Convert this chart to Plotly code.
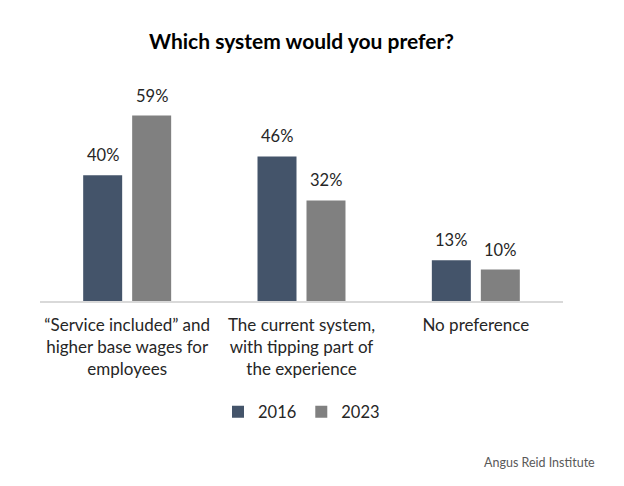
import plotly.graph_objects as go

categories = ["“Service included” and<br>higher base wages for<br>employees",
              "The current system,<br>with tipping part of<br>the experience",
              "No preference"]
years = ["2016", "2023"]
values_2016 = [40, 46, 13]
values_2023 = [59, 32, 10]
colors = ["#44546A", "#808080"]

FONT = "Lato"
bargap = 0.438
bargroupgap = 0.204

fig = go.Figure()
series = [values_2016, values_2023]
for name, vals, col in zip(years, series, colors):
    fig.add_trace(go.Bar(x=categories, y=vals, name=name, marker_color=col,
                         marker_line_width=0, hoverinfo="skip"))

# value labels above bars
slot = (1 - bargap) / 2
for i, vals in enumerate(series):
    off = (i - 0.5) * slot
    for j, v in enumerate(vals):
        fig.add_annotation(x=j + off, y=v, xref="x", yref="y", text=f"{v}%",
                           showarrow=False, yanchor="bottom", yshift=8,
                           font=dict(family=FONT, size=16.5, color="#262626"))

fig.add_annotation(text="Angus Reid Institute", xref="paper", yref="paper",
                   x=1.065, y=-0.736, xanchor="right", yanchor="middle",
                   showarrow=False, font=dict(family=FONT, size=12.5, color="#595959"))

fig.update_layout(
    width=624, height=486,
    margin=dict(l=40, r=61, t=81, b=185),
    paper_bgcolor="white", plot_bgcolor="white",
    barmode="group", bargap=bargap, bargroupgap=bargroupgap,
    title=dict(text="<b>Which system would you prefer?</b>", x=0.5, xref="paper",
               y=1 - 42 / 486, yanchor="middle",
               font=dict(family=FONT, size=21, color="black")),
    xaxis=dict(showline=True, linecolor="#D9D9D9", linewidth=1.5, ticks="",
               tickfont=dict(family=FONT, size=17, color="#262626"),
               ticklabelstandoff=8,
               showgrid=False, zeroline=False),
    yaxis=dict(range=[0, 70], visible=False, showgrid=False, zeroline=False),
    legend=dict(orientation="h", x=0.5, xanchor="center", y=-0.505, yanchor="middle",
                font=dict(family=FONT, size=16.5, color="#262626"),
                itemwidth=30, tracegroupgap=0),
    showlegend=True,
)

fig.write_html("out.html")
